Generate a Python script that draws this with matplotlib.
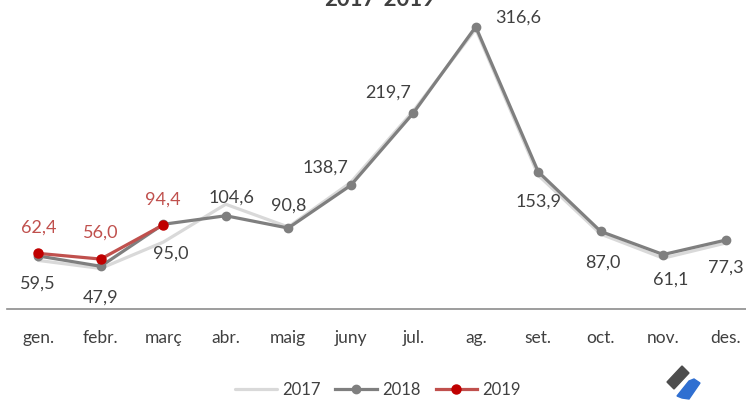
import numpy as np
import matplotlib
matplotlib.use("Agg")
import matplotlib.pyplot as plt
from matplotlib.patches import Polygon

plt.rcParams['font.family'] = ['Lato', 'DejaVu Sans']

months = ['gen.', 'febr.', 'març', 'abr.', 'maig', 'juny', 'jul.', 'ag.', 'set.', 'oct.', 'nov.', 'des.']
v2017 = [54.5, 45.5, 75.0, 117.5, 92.0, 142.0, 222.0, 314.0, 150.0, 84.0, 57.0, 74.0]
v2018 = [59.5, 47.9, 95.0, 104.6, 90.8, 138.7, 219.7, 316.6, 153.9, 87.0, 61.1, 77.3]
v2019 = [62.4, 56.0, 94.4]

# label offsets in pixels (dx, dy) for each data label
off2018 = [(0, -28), (0, -31), (7, -29), (6, 18), (0, 22), (-25, 18),
           (-25, 21), (42, 9), (0, -30), (2, -31), (7, -25), (0, -28)]
off2019 = [(0, 26), (0, 26), (0, 25)]

W, H = 746, 401
fig = plt.figure(figsize=(W / 100, H / 100), dpi=100)
ax = fig.add_axes([7 / W, 92 / H, 739 / W, 309 / H])

x = np.arange(len(months))
ax.plot(x, v2017, color='#d9d9d9', lw=2.3, label='2017', solid_capstyle='round', zorder=2)
ax.plot(x, v2018, color='#7f7f7f', lw=2.3, marker='o', ms=6, label='2018', zorder=3)
x19 = np.arange(len(v2019))
ax.plot(x19, v2019, color='#c0504d', lw=2.3, marker='o', ms=6.5,
        markerfacecolor='#c00000', markeredgecolor='#c00000', label='2019', zorder=4)

ax.set_xlim(-0.5, -0.5 + 739 / 62.5)
ax.set_ylim(0, 346.6)

def fmt(v):
    return f"{v:.1f}".replace('.', ',')

for i, v in enumerate(v2018):
    ax.annotate(fmt(v), (x[i], v), xytext=off2018[i], textcoords='offset pixels',
                ha='center', va='center', fontsize=13, color='#404040', zorder=6)
for i, v in enumerate(v2019):
    ax.annotate(fmt(v), (x19[i], v), xytext=off2019[i], textcoords='offset pixels',
                ha='center', va='center', fontsize=13, color='#c0504d', zorder=6)

for s in ['top', 'right', 'left']:
    ax.spines[s].set_visible(False)
ax.spines['bottom'].set_color('#8c8c8c')
ax.spines['bottom'].set_linewidth(1.2)
ax.set_yticks([])
ax.set_xticks(x)
ax.set_xticklabels(months, fontsize=12.5, color='#404040')
ax.tick_params(axis='x', length=0, pad=15)

fig.text(380 / W, 1 - 6 / H, '2017-2019', ha='center', va='baseline',
         fontsize=16, fontweight='bold', color='#404040')

fig.legend(loc='center', bbox_to_anchor=(378 / W, 1 - 390 / H), ncol=3, frameon=False,
           fontsize=12, handlelength=2.5, columnspacing=0.9, handletextpad=0.3,
           labelcolor='#404040')

# small logo, bottom right
def px(pts):
    return [(a / W, 1 - b / H) for a, b in pts]

fig.patches.append(Polygon(px([(667, 382), (682, 366), (689, 373), (674, 389)]),
                           closed=True, color='#4d4d4d', transform=fig.transFigure))
fig.patches.append(Polygon(px([(677, 396), (689, 381), (694, 379), (700, 383), (689, 399), (682, 398)]),
                           closed=True, color='#2f6fd1', transform=fig.transFigure))

fig.savefig('out.png', dpi=100)
